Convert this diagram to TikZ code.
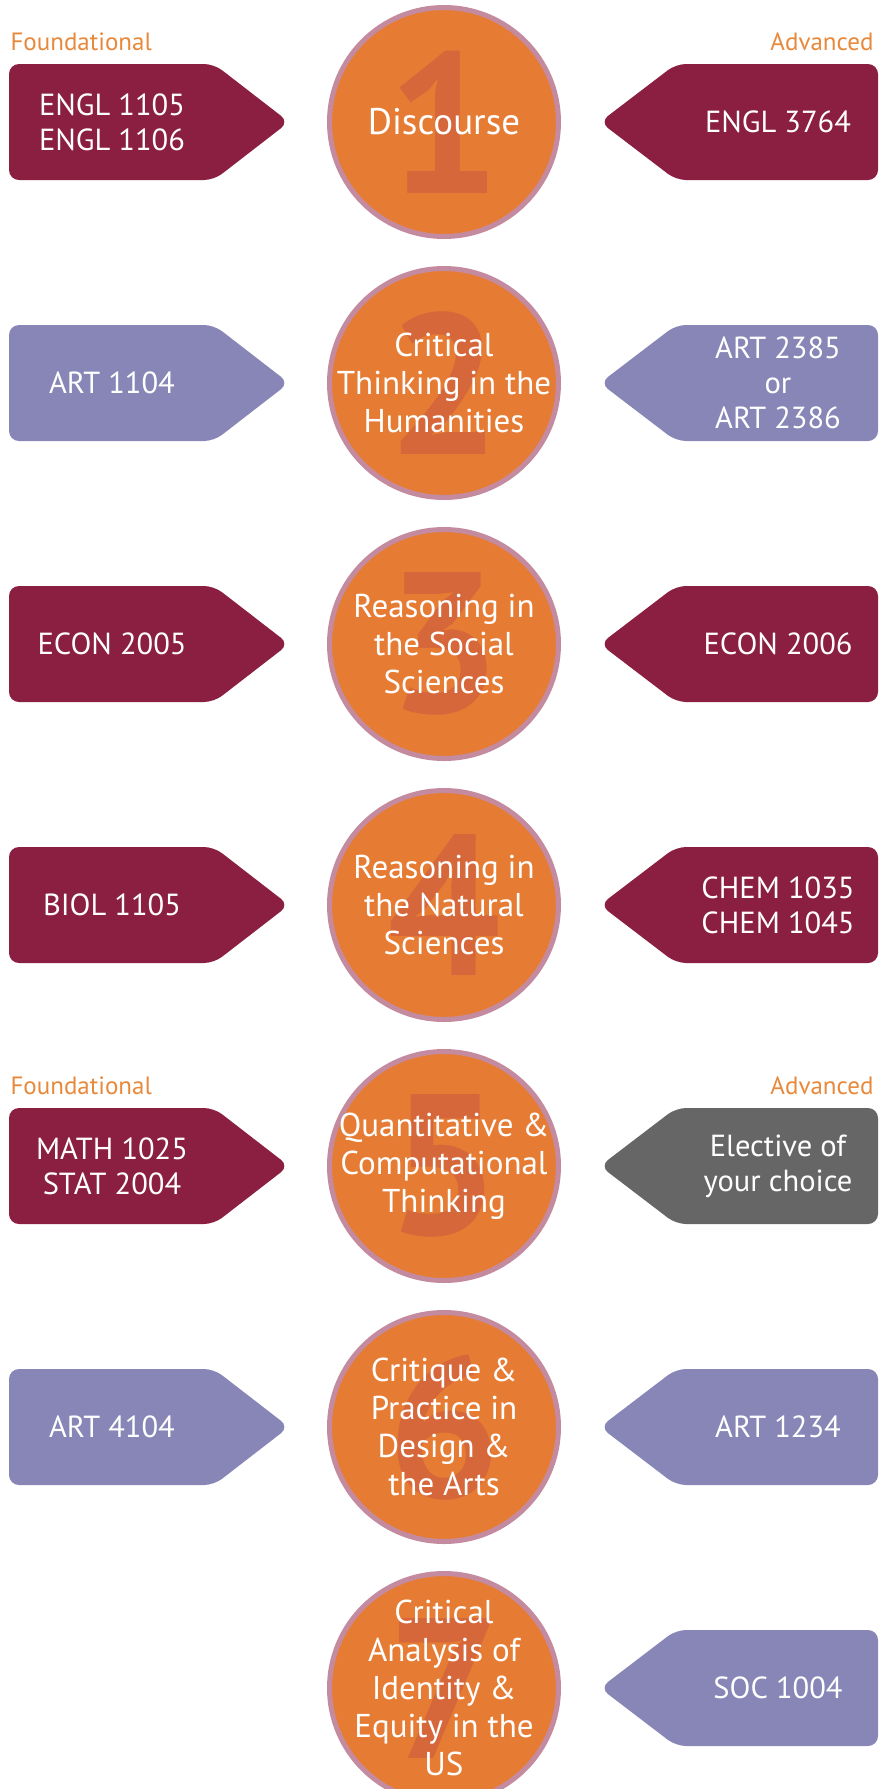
\documentclass[tikz,border=0pt]{standalone}
\usepackage{fontspec}
\setmainfont{PT Sans}

\definecolor{vtmaroon}{HTML}{8B1F41}
\definecolor{lilac}{HTML}{8786B7}
\definecolor{elective}{HTML}{666666}
\definecolor{areaorange}{HTML}{E67C34}
\definecolor{arearim}{HTML}{C48BA0}
\definecolor{numorange}{HTML}{D5673A}
\definecolor{levelorange}{HTML}{E8883A}

\begin{document}
\begin{tikzpicture}[x=1pt, y=-1pt,
    course/.style={text=white, align=center, font=\fontsize{30.5}{35}\selectfont},
    area/.style={circle, fill=areaorange, draw=arearim, line width=5pt,
      minimum size=229pt, inner sep=0pt},
    areatext/.style={text=white, align=center, font=\fontsize{33}{38}\selectfont},
    bignum/.style={text=numorange, font=\fontsize{200}{200}\bfseries\selectfont},
    level/.style={text=levelorange, font=\fontsize{25}{28}\selectfont}]
  \useasboundingbox (0,0) rectangle (879,1789);
  \clip (0,0) rectangle (879,1789);

  % the seven areas
  \foreach \i/\txt in {1/{\fontsize{37}{40}\selectfont Discourse},
      2/{Critical\\Thinking in the\\Humanities},
      3/{Reasoning in\\the Social\\Sciences},
      4/{Reasoning in\\the Natural\\Sciences},
      5/{Quantitative \&\\Computational\\Thinking},
      6/{Critique \&\\Practice in\\Design \&\\the Arts},
      7/{Critical\\Analysis of\\Identity \&\\Equity in the\\US}} {
    \pgfmathsetmacro\cy{122+261*(\i-1)}
    \node[area] (area\i) at (444,\cy) {};
    \node[bignum] (num\i) at (area\i) {\i};
    \node[areatext] (name\i) at (area\i) {\txt};
  }

  % foundational courses
  \foreach \i/\col/\txt in {1/vtmaroon/{ENGL 1105\\ENGL 1106}, 2/lilac/ART 1104,
      3/vtmaroon/ECON 2005, 4/vtmaroon/BIOL 1105,
      5/vtmaroon/{MATH 1025\\STAT 2004}, 6/lilac/ART 4104} {
    \pgfmathsetmacro\cy{122+261*(\i-1)}
    \fill[\col, rounded corners=10pt] (9,\cy-58) -- (214,\cy-58) -- (289,\cy)
      -- (214,\cy+58) -- (9,\cy+58) -- cycle;
    \node[course] (found\i) at (112,\cy) {\txt};
  }

  % advanced courses
  \foreach \i/\col/\txt in {1/vtmaroon/ENGL 3764, 2/lilac/{ART 2385\\or\\ART 2386},
      3/vtmaroon/ECON 2006, 4/vtmaroon/{CHEM 1035\\CHEM 1045},
      5/elective/{Elective of\\your choice}, 6/lilac/ART 1234, 7/lilac/SOC 1004} {
    \pgfmathsetmacro\cy{122+261*(\i-1)}
    \fill[\col, rounded corners=10pt] (878,\cy-58) -- (676,\cy-58) -- (600,\cy)
      -- (676,\cy+58) -- (878,\cy+58) -- cycle;
    \node[course] (adv\i) at (778,\cy) {\txt};
  }

  \node[level, anchor=west] (foundlab1) at (7,42) {Foundational};
  \node[level, anchor=east] (advlab1) at (877,42) {Advanced};
  \node[level, anchor=west] (foundlab5) at (7,1086) {Foundational};
  \node[level, anchor=east] (advlab5) at (877,1086) {Advanced};
\end{tikzpicture}
\end{document}
